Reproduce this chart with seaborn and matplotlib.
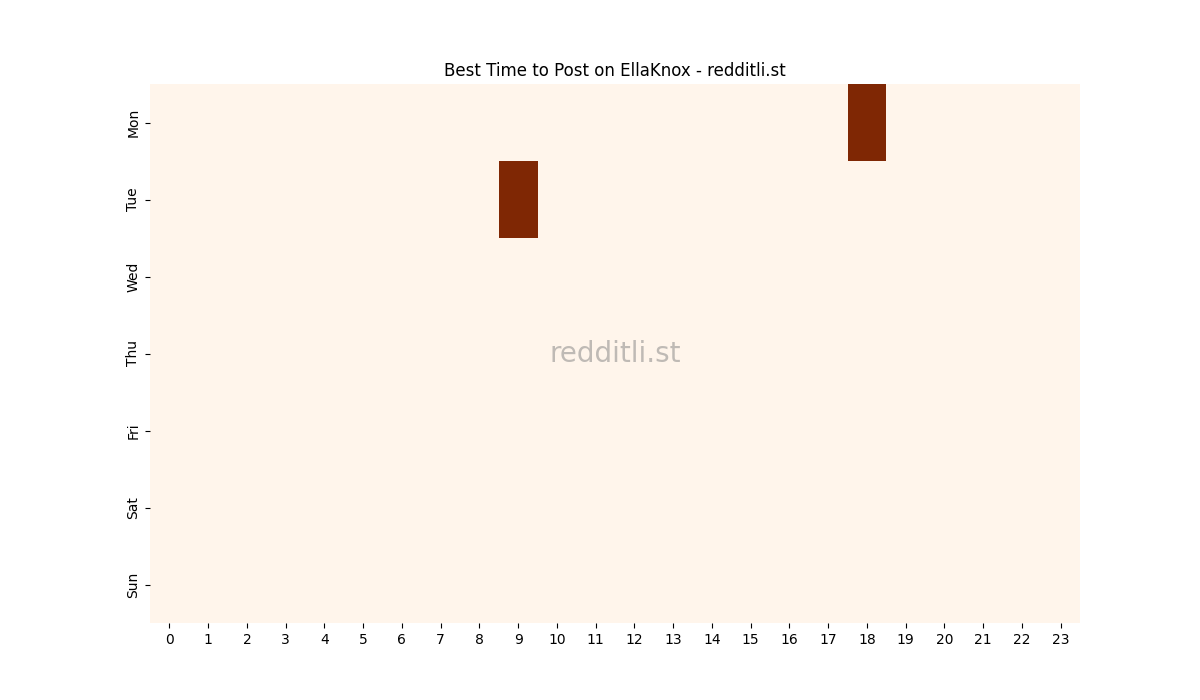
import matplotlib
matplotlib.use("Agg")
import matplotlib.pyplot as plt
import seaborn as sns
import numpy as np
import pandas as pd

days = ["Mon", "Tue", "Wed", "Thu", "Fri", "Sat", "Sun"]
hours = list(range(24))
mon = [0]*18 + [1] + [0]*5
tue = [0]*9 + [1] + [0]*14
wed = [0]*24
thu = [0]*24
fri = [0]*24
sat = [0]*24
sun = [0]*24

df = pd.DataFrame([mon, tue, wed, thu, fri, sat, sun], index=days, columns=hours)

fig, ax = plt.subplots(figsize=(12, 7), dpi=100)
sns.heatmap(df, cmap="Oranges", cbar=False, ax=ax)
ax.set_title("Best Time to Post on EllaKnox - redditli.st")
ax.set_xlabel("")
ax.set_ylabel("")
ax.text(0.5, 0.5, "redditli.st", transform=ax.transAxes, ha="center", va="center",
        fontsize=20, color="gray", alpha=0.5)
fig.savefig("out.png", dpi=100)
